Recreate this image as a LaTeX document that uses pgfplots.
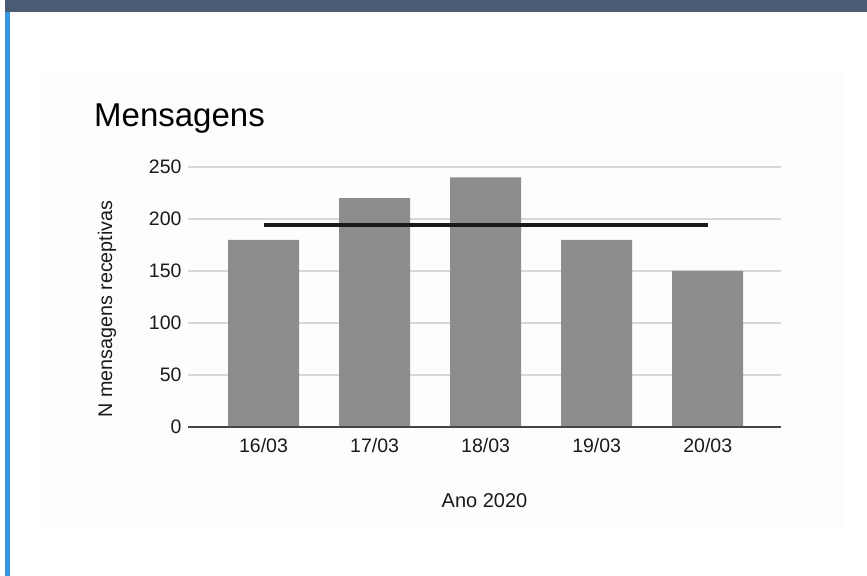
\documentclass[border=0pt]{standalone}
\usepackage{pgfplots}
\pgfplotsset{compat=1.18}
\usepackage{fontspec}
\setmainfont{Liberation Sans}
\definecolor{topbar}{HTML}{495C73}
\definecolor{sideblue}{HTML}{3A96DC}
\definecolor{bargray}{HTML}{8C8E8D}
\definecolor{gridgray}{HTML}{D7D7D7}
\definecolor{axisdark}{HTML}{464646}
\definecolor{txt}{HTML}{1A1A1A}
\definecolor{chartbg}{HTML}{FDFDFD}
\begin{document}
\begin{tikzpicture}[x=1bp,y=1bp]
\useasboundingbox (0,0) rectangle (867,576);
\fill[white] (0,0) rectangle (867,576);
\fill[topbar] (5,564) rectangle (867,576);
\fill[sideblue] (5,0) rectangle (10,564);
\fill[chartbg] (42,46) rectangle (843,506);
\begin{axis}[
  at={(188bp,149bp)}, anchor=south west,
  scale only axis, width=593bp, height=260bp,
  xmin=-0.68, xmax=4.66, ymin=0, ymax=250,
  ytick={0,50,100,150,200,250},
  xtick={0,1,2,3,4},
  xticklabels={16/03,17/03,18/03,19/03,20/03},
  ymajorgrids, grid style={draw=gridgray, line width=1.8bp},
  axis line style={draw=none},
  major tick length=0pt,
  /pgf/number format/assume math mode=true,
  ticklabel style={font=\fontsize{19.5bp}{23bp}\selectfont, text=txt},
  yticklabel style={xshift=-3bp},
  xticklabel style={yshift=-7.5bp},
  clip=false,
  title={Mensagens},
  title style={at={(axis description cs:-0.1585,1.1346)}, anchor=base west,
    font=\fontsize{33bp}{38bp}\selectfont, text=black, inner sep=0pt},
  xlabel={Ano 2020},
  xlabel style={at={(axis description cs:0.5,-0.2827)}, anchor=center,
    font=\fontsize{20bp}{24bp}\selectfont, text=txt, inner sep=0pt},
  ylabel={N mensagens receptivas},
  ylabel style={at={(axis description cs:-0.1366,0.454)}, anchor=center,
    font=\fontsize{19.7bp}{23bp}\selectfont, text=txt, inner sep=0pt},
]
\addplot[ybar, bar width=71bp, fill=bargray, draw=none] coordinates {
  (0,180) (1,220) (2,240) (3,180) (4,150)};
\addplot[color=txt, line width=4bp, line cap=butt] coordinates {(0,194) (4,194)};
\draw[axisdark, line width=2.2bp] (rel axis cs:0,0) -- (rel axis cs:1,0);
\end{axis}
\end{tikzpicture}
\end{document}
